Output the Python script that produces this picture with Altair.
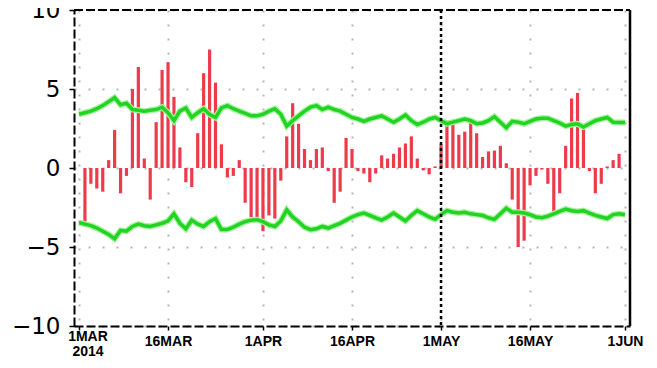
import altair as alt
import pandas as pd

# ---------------- data ----------------
bar_start = "2014-03-02"
bar_values = [
    -3.4, -1.0, -1.3, -1.5, 0.5, 2.4, -1.6, -0.5, 5.0, 6.4,
    0.6, -2.0, 2.9, 6.2, 6.7, 4.5, 1.3, -0.9, -1.2, 2.2,
    6.0, 7.5, 5.4, 1.5, -0.6, -0.5, 0.5, -2.2, -3.1, -3.2,
    -4.0, -3.0, -3.2, -0.8, 2.0, 4.1, 2.8, 1.2, 0.5, 1.2,
    1.3, -0.2, -2.2, -1.5, 1.9, 1.2, -0.2, -0.35, -0.9, -0.35,
    0.8, 0.6, 0.9, 1.3, 1.55, 2.0, 0.6, -0.15, -0.4, 0.1,
    1.5, 3.0, 2.9, 2.1, 2.3, 2.9, 2.2, 0.7, 1.05, 1.1,
    1.4, 0.3, -2.0, -5.0, -4.6, -1.1, -0.5, -0.1, -1.0, -3.0,
    -1.6, 1.4, 4.4, 4.75, 2.8, -0.2, -1.6, -1.0, 0.1, 0.5,
    0.9,
]

env_start = "2014-03-01"
upper_values = [
    3.4, 3.5, 3.6, 3.75, 3.95, 4.2, 4.45, 4.0, 4.1, 3.7,
    3.65, 3.6, 3.65, 3.7, 3.85, 3.5, 3.0, 3.6, 3.8, 3.2,
    3.5, 3.75, 3.4, 3.2, 3.8, 3.95, 3.75, 3.6, 3.45, 3.3,
    3.3, 3.4, 3.6, 3.75, 3.4, 2.65, 3.0, 3.3, 3.6, 3.85,
    3.95, 3.7, 3.85, 3.7, 3.6, 3.4, 3.2, 3.1, 2.95, 3.1,
    3.2, 3.3, 3.1, 2.9, 3.1, 3.35, 3.0, 2.75, 2.9, 3.1,
    3.2, 3.0, 2.8, 2.9, 3.0, 3.1, 3.0, 2.8, 2.85, 3.0,
    3.25, 2.9, 2.55, 2.95, 2.9, 2.8, 2.95, 3.1, 3.15, 3.15,
    3.0, 2.85, 2.65, 2.75, 2.8, 2.6, 2.8, 3.0, 3.1, 3.2,
    2.9, 2.88, 2.88,
]
lower_values = [
    -3.45, -3.55, -3.65, -3.8, -4.0, -4.2, -4.48, -3.95, -4.0, -3.7,
    -3.55, -3.65, -3.7, -3.6, -3.5, -3.35, -2.9, -3.5, -3.85, -3.3,
    -3.55, -3.7, -3.4, -3.2, -3.9, -3.9, -3.75, -3.55, -3.4, -3.3,
    -3.27, -3.4, -3.6, -3.7, -3.35, -2.65, -3.1, -3.4, -3.75, -3.9,
    -3.85, -3.7, -3.8, -3.65, -3.5, -3.3, -3.1, -2.95, -2.85, -3.0,
    -3.15, -3.3, -3.1, -2.85, -3.1, -3.35, -3.0, -2.7, -2.9, -3.1,
    -3.25, -2.95, -2.7, -2.8, -2.85, -2.8, -2.9, -2.95, -3.0, -3.15,
    -3.25, -2.9, -2.55, -2.8, -2.8, -2.85, -2.95, -3.1, -3.15, -3.05,
    -2.9, -2.75, -2.6, -2.7, -2.75, -2.7, -2.85, -3.0, -3.1, -3.2,
    -2.95, -2.9, -2.96,
]

tick_dates = ["2014-03-01", "2014-03-16", "2014-04-01", "2014-04-16",
              "2014-05-01", "2014-05-16", "2014-06-01"]
y_ticks = [-10, -5, 0, 5, 10]
marker_date = ["2014-05-01"]
first_label = ["1MAR\n2014"]

# ---------------- tables ----------------
bar_dates = [d.strftime("%Y-%m-%d") for d in pd.date_range(bar_start, periods=len(bar_values), freq="D")]
env_dates = [d.strftime("%Y-%m-%d") for d in pd.date_range(env_start, periods=len(upper_values), freq="D")]
bars_df = pd.DataFrame({"date": bar_dates, "value": bar_values})
env_df = pd.DataFrame({"date": env_dates, "upper": upper_values, "lower": lower_values})
marker_df = pd.DataFrame({"date": marker_date})
label_df = pd.DataFrame({"date": [tick_dates[0]], "label": first_label})

W, H = 556, 316
XFONT = "Liberation Sans Narrow, Arial Narrow, Liberation Sans, Arial, sans-serif"


def dt(s):
    y, m, d = (int(p) for p in s.split("-"))
    return alt.DateTime(year=y, month=m, date=d, utc=True)


x_scale = alt.Scale(type="utc", domain=[dt(tick_dates[0]), dt(tick_dates[-1])])
y_scale = alt.Scale(domain=[-10, 10], nice=False)

x_axis = alt.Axis(
    values=[dt(s) for s in tick_dates],
    title=None,
    labelExpr="utcFormat(datum.value, '%d%m') == '0103' ? '' : upper(utcFormat(datum.value, '%-d%b'))",
    labelFont=XFONT,
    labelFontWeight="bold",
    labelFontSize=14,
    labelColor="black",
    labelFlush=False,
    labelOverlap=False,
    labelPadding=4,
    tickSize=4,
    tickColor="black",
    tickWidth=1.5,
    domainColor="black",
    domainWidth=2,
    domainDash=[9, 3],
    grid=True,
    gridColor="#b5b5b5",
    gridDash=[2, 12],
    gridWidth=2,
)
y_axis = alt.Axis(
    values=y_ticks,
    title=None,
    labelFont="DejaVu Sans",
    labelFontSize=23,
    labelColor="black",
    labelPadding=9,
    labelFlush=False,
    labelOverlap=False,
    tickSize=5,
    tickColor="black",
    tickWidth=1.5,
    domainColor="black",
    domainWidth=2,
    domainDash=[9, 3],
    grid=True,
    gridColor="#b5b5b5",
    gridDash=[2, 12],
    gridWidth=2,
)

x_enc = alt.X("date:T", scale=x_scale, axis=x_axis)

bars = alt.Chart(bars_df).mark_bar(width=3.2, color="#ee3b4b").encode(
    x=x_enc, y=alt.Y("value:Q", scale=y_scale, axis=y_axis)
)

halo_up = alt.Chart(env_df).mark_line(color="#a6f0a0", strokeWidth=6).encode(
    x=x_enc, y=alt.Y("upper:Q", scale=y_scale, axis=y_axis)
)
halo_lo = alt.Chart(env_df).mark_line(color="#a6f0a0", strokeWidth=6).encode(
    x=x_enc, y=alt.Y("lower:Q", scale=y_scale, axis=y_axis)
)
line_up = alt.Chart(env_df).mark_line(color="#22d422", strokeWidth=3.5).encode(
    x=x_enc, y=alt.Y("upper:Q", scale=y_scale, axis=y_axis)
)
line_lo = alt.Chart(env_df).mark_line(color="#22d422", strokeWidth=3.5).encode(
    x=x_enc, y=alt.Y("lower:Q", scale=y_scale, axis=y_axis)
)

marker = alt.Chart(marker_df).mark_rule(color="black", strokeWidth=2.5, strokeDash=[3, 3]).encode(
    x=x_enc
)

dummy = alt.Data(values=[{"k": 0}])
top_border = alt.Chart(dummy).mark_rule(color="black", strokeWidth=2, strokeDash=[9, 3]).encode(
    x=alt.value(0), x2=alt.value(W), y=alt.value(0)
)
right_border = alt.Chart(dummy).mark_rule(color="black", strokeWidth=2.5).encode(
    x=alt.value(W), y=alt.value(0), y2=alt.value(H)
)

first_lbl = alt.Chart(label_df).mark_text(
    lineBreak="\n", align="center", baseline="top", dx=9,
    font=XFONT, fontWeight="bold", fontSize=14, lineHeight=15,
    color="black",
).encode(x=x_enc, y=alt.value(H + 4), text="label:N")

chart = alt.layer(
    bars, halo_up, halo_lo, line_up, line_lo, marker, top_border, right_border, first_lbl
).properties(
    width=W,
    height=H,
    autosize=alt.AutoSizeParams(type="none"),
    padding={"left": 66, "top": 2, "right": 19, "bottom": 34},
    background="white",
).configure_view(stroke=None)

chart.save("out.html", embed_options={"renderer": "svg", "actions": False})
